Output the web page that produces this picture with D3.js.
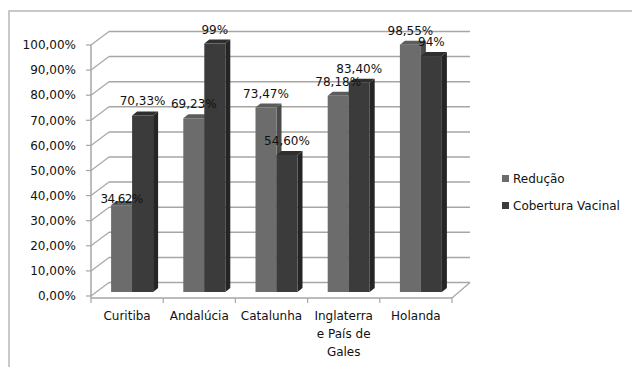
<!DOCTYPE html>
<html>
<head>
<meta charset="utf-8">
<script src="https://cdn.jsdelivr.net/npm/d3@7"></script>
<style>
  body { margin: 0; background: #fff; }
  svg { display: block; font-family: "DejaVu Sans", sans-serif; }
</style>
</head>
<body>
<script>
const categories = ['Curitiba', 'Andalúcia', 'Catalunha', 'Inglaterra e País de Gales', 'Holanda'];
const seriesNames = ['Redução', 'Cobertura Vacinal'];
const reducao = [0.3462, 0.6923, 0.7347, 0.7818, 0.9855];
const cobertura = [0.7033, 0.99, 0.546, 0.834, 0.94];
const reducaoLabels = ['34,62%', '69,23%', '73,47%', '78,18%', '98,55%'];
const coberturaLabels = ['70,33%', '99%', '54,60%', '83,40%', '94%'];
const yTicks = [0, 0.1, 0.2, 0.3, 0.4, 0.5, 0.6, 0.7, 0.8, 0.9, 1.0];

const width = 632, height = 367;
const DX = 18, DY = -13.5;      // depth of the floor / walls
const BX = 5, BY = -4;          // bar front offset and bar depth

const colors = {
  'Redução': { front: '#6c6c6c', side: '#4a4a4a', top: '#5c5c5c' },
  'Cobertura Vacinal': { front: '#3b3b3b', side: '#252525', top: '#2f2f2f' }
};

const svg = d3.select('body').append('svg')
  .attr('width', width)
  .attr('height', height);

// outer chart border
svg.append('rect')
  .attr('x', 9).attr('y', 11)
  .attr('width', 640).attr('height', 380)
  .attr('fill', 'none')
  .attr('stroke', '#b8b8b8')
  .attr('stroke-width', 1.5);

const y = d3.scaleLinear().domain([0, 1]).range([296, 45]);
const x = d3.scaleBand().domain(categories).range([91, 452]);
const barsWidth = 42;
const xs = d3.scaleBand().domain(seriesNames).range([0, barsWidth]);

const grid = svg.append('g').attr('class', 'grid');
const x0 = x.range()[0], x1 = x.range()[1];

// back wall gridlines + left wall diagonals
yTicks.forEach(t => {
  grid.append('line')
    .attr('x1', x0 + DX).attr('y1', y(t) + DY)
    .attr('x2', x1 + DX).attr('y2', y(t) + DY)
    .attr('stroke', '#a6a6a6').attr('stroke-width', 1.5);
  grid.append('line')
    .attr('x1', x0).attr('y1', y(t))
    .attr('x2', x0 + DX).attr('y2', y(t) + DY)
    .attr('stroke', '#a6a6a6').attr('stroke-width', 1.2);
});

// floor front edge and right edge
const floorY = y(0) + 2;
grid.append('line')
  .attr('x1', x0).attr('y1', floorY)
  .attr('x2', x1).attr('y2', floorY)
  .attr('stroke', '#a6a6a6').attr('stroke-width', 1.5);
grid.append('line')
  .attr('x1', x1).attr('y1', floorY)
  .attr('x2', x1 + DX).attr('y2', y(0) + DY)
  .attr('stroke', '#a6a6a6').attr('stroke-width', 1.2);

// x ticks
grid.selectAll('.xtick')
  .data(categories.concat(['end']))
  .enter()
  .append('line')
  .attr('x1', (d, i) => i < categories.length ? x(d) : x1)
  .attr('x2', (d, i) => i < categories.length ? x(d) : x1)
  .attr('y1', floorY).attr('y2', floorY + 5)
  .attr('stroke', '#a6a6a6').attr('stroke-width', 1.2);

// y axis
const yAxis = svg.append('g');
yAxis.append('line')
  .attr('x1', x0).attr('x2', x0)
  .attr('y1', y(1)).attr('y2', floorY)
  .attr('stroke', '#a6a6a6').attr('stroke-width', 1.5);
yAxis.selectAll('.ytick')
  .data(yTicks)
  .enter()
  .append('line')
  .attr('x1', x0 - 5).attr('x2', x0)
  .attr('y1', d => y(d)).attr('y2', d => y(d))
  .attr('stroke', '#a6a6a6').attr('stroke-width', 1.2);
yAxis.selectAll('.ylabel')
  .data(yTicks)
  .enter()
  .append('text')
  .attr('x', 76)
  .attr('y', d => y(d))
  .attr('dy', '0.35em')
  .attr('text-anchor', 'end')
  .style('font-size', '12px')
  .attr('fill', '#111')
  .text(d => d3.format('.2f')(d * 100).replace('.', ',') + '%');

// bars
const rows = [];
categories.forEach((c, i) => {
  rows.push({ cat: c, series: 'Redução', value: reducao[i], label: reducaoLabels[i] });
  rows.push({ cat: c, series: 'Cobertura Vacinal', value: cobertura[i], label: coberturaLabels[i] });
});

const bw = xs.bandwidth();
const barLeft = d => x(d.cat) + (x.bandwidth() - barsWidth) / 2 + xs(d.series) + BX;
const barTop = d => y(d.value) + BY;
const barBottom = y(0) + BY;

const bars = svg.append('g').selectAll('.bar')
  .data(rows)
  .enter()
  .append('g');

bars.append('polygon')
  .attr('points', d => {
    const l = barLeft(d) + bw, t = barTop(d);
    return [[l, t], [l + BX, t + BY], [l + BX, barBottom + BY], [l, barBottom]].join(' ');
  })
  .attr('fill', d => colors[d.series].side);

bars.append('polygon')
  .attr('points', d => {
    const l = barLeft(d), t = barTop(d);
    return [[l, t], [l + BX, t + BY], [l + bw + BX, t + BY], [l + bw, t]].join(' ');
  })
  .attr('fill', d => colors[d.series].top);

bars.append('rect')
  .attr('x', d => barLeft(d))
  .attr('y', d => barTop(d))
  .attr('width', bw)
  .attr('height', d => barBottom - barTop(d))
  .attr('fill', d => colors[d.series].front);

// data labels (the low Curitiba label overlaps its bar top as in the original)
svg.append('g').selectAll('.dlabel')
  .data(rows)
  .enter()
  .append('text')
  .attr('x', d => barLeft(d) + bw / 2)
  .attr('y', d => barTop(d) - (d.value < 0.4 ? 2 : 10))
  .attr('text-anchor', 'middle')
  .style('font-size', '12px')
  .style('letter-spacing', d => d.value < 0.4 ? '-0.6px' : '0px')
  .attr('fill', '#111')
  .text(d => d.label);

// category labels, wrapped to the band width
const catLabels = svg.append('g').selectAll('.xlabel')
  .data(categories)
  .enter()
  .append('text')
  .attr('x', d => x(d) + x.bandwidth() / 2)
  .attr('y', 320)
  .attr('text-anchor', 'middle')
  .style('font-size', '12px')
  .attr('fill', '#111');

catLabels.each(function(d) {
  const text = d3.select(this);
  const words = d.split(' ');
  const cx = +text.attr('x');
  let line = [];
  let lineNo = 0;
  let tspan = text.append('tspan').attr('x', cx).attr('dy', 0);
  words.forEach(w => {
    line.push(w);
    tspan.text(line.join(' '));
    if (tspan.node().getComputedTextLength() > x.bandwidth() - 4 && line.length > 1) {
      line.pop();
      tspan.text(line.join(' '));
      line = [w];
      lineNo++;
      tspan = text.append('tspan').attr('x', cx).attr('dy', 18).text(w);
    }
  });
});

// legend
const legend = svg.append('g').selectAll('.legend')
  .data(seriesNames)
  .enter()
  .append('g')
  .attr('transform', (d, i) => `translate(502, ${175 + i * 27})`);

legend.append('rect')
  .attr('width', 7).attr('height', 7)
  .attr('fill', d => colors[d].front);

legend.append('text')
  .attr('x', 11).attr('y', 8)
  .style('font-size', '12px')
  .attr('fill', '#111')
  .text(d => d);
</script>
</body>
</html>
